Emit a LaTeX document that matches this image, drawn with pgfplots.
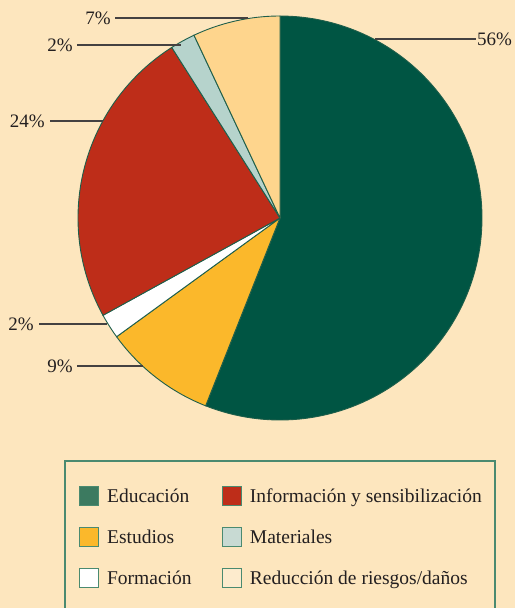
\documentclass[border=0pt]{standalone}
\usepackage{fontspec}
\setmainfont{Liberation Serif}
\usepackage{pgfplots}
\pgfplotsset{compat=1.18}

\definecolor{cBg}{HTML}{FDE6BE}
\definecolor{cEdge}{HTML}{1E5E4A}
\definecolor{cEdu}{HTML}{005543}
\definecolor{cEst}{HTML}{FBB82B}
\definecolor{cFor}{HTML}{FFFFFF}
\definecolor{cInf}{HTML}{BE2D19}
\definecolor{cMat}{HTML}{B6D3CC}
\definecolor{cRed}{HTML}{FED58D}
\definecolor{cLegEdu}{HTML}{3C7A60}
\definecolor{cLegMat}{HTML}{C8DAD3}
\definecolor{cLegRed}{HTML}{FDEBCD}
\definecolor{cLegEdge}{HTML}{4A8A70}
\definecolor{cText}{HTML}{231F20}

% one wedge: start (percent), value (percent), colour; clockwise from 12 o'clock
\newcommand{\pieslice}[3]{%
  \addplot[forget plot, fill=#3, draw=cEdge, line width=0.9bp,
    domain={90-3.6*(#1+#2)}:{90-3.6*(#1)}, samples=120, variable=\t]
    ({280+202*cos(\t)}, {218-202*sin(\t)}) -- (axis cs:280,218) -- cycle;}

\begin{document}
\begin{tikzpicture}
\begin{axis}[
  scale only axis, width=515bp, height=608bp,
  xmin=0, xmax=515, ymin=0, ymax=608, y dir=reverse,
  hide axis, axis background/.style={fill=cBg},
  legend columns=2,
  legend cell align=left,
  legend image code/.code={\draw[#1] (0bp,-9.5bp) rectangle (19bp,9.5bp);},
  legend style={at={(axis cs:76,484)}, anchor=north west, draw=none, fill=none,
    font=\fontsize{19.5bp}{20bp}\selectfont, text=cText,
    nodes={inner sep=0pt}, column sep=0pt, row sep=21bp},
]
% Educacion 56, Estudios 9, Formacion 2, Informacion 24, Materiales 2, Reduccion 7
\pieslice{0}{56}{cEdu}
\pieslice{56}{9}{cEst}
\pieslice{65}{2}{cFor}
\pieslice{67}{24}{cInf}
\pieslice{91}{2}{cMat}
\pieslice{93}{7}{cRed}

\addlegendimage{fill=cLegEdu, draw=cLegEdge, line width=0.9bp}
\addlegendentry{\makebox[123bp][l]{\strut\hspace{8bp}Educación}}
\addlegendimage{fill=cInf, draw=cLegEdge, line width=0.9bp}
\addlegendentry{\strut\hspace{8bp}Información y sensibilización}
\addlegendimage{fill=cEst, draw=cLegEdge, line width=0.9bp}
\addlegendentry{\makebox[123bp][l]{\strut\hspace{8bp}Estudios}}
\addlegendimage{fill=cLegMat, draw=cLegEdge, line width=0.9bp}
\addlegendentry{\strut\hspace{8bp}Materiales}
\addlegendimage{fill=white, draw=cLegEdge, line width=0.9bp}
\addlegendentry{\makebox[123bp][l]{\strut\hspace{8bp}Formación}}
\addlegendimage{fill=cLegRed, draw=cLegEdge, line width=0.9bp}
\addlegendentry{\strut\hspace{8bp}Reducción de riesgos/daños}

% leader lines and percentage labels
\begin{scope}[draw=cText!85, line width=1.1bp]
\draw (axis cs:375,39) -- (axis cs:476,39);
\draw (axis cs:115,18) -- (axis cs:248,18);
\draw (axis cs:77,45) -- (axis cs:181,45);
\draw (axis cs:50,121) -- (axis cs:103,121);
\draw (axis cs:39,324) -- (axis cs:107,324);
\draw (axis cs:77,366) -- (axis cs:143,366);
\end{scope}
\begin{scope}[every node/.style={font=\fontsize{19bp}{20bp}\selectfont, text=cText, inner sep=0pt}]
\node[anchor=west] at (axis cs:477,39) {56\%};
\node[anchor=east] at (axis cs:111,18) {7\%};
\node[anchor=east] at (axis cs:73,45) {2\%};
\node[anchor=east] at (axis cs:45,121) {24\%};
\node[anchor=east] at (axis cs:34,324) {2\%};
\node[anchor=east] at (axis cs:73,366) {9\%};
\end{scope}

% legend frame (runs off the bottom edge)
\draw[cLegEdge, line width=1.2bp] (axis cs:65,608) -- (axis cs:65,461) -- (axis cs:495,461) -- (axis cs:495,608);
\end{axis}
\end{tikzpicture}
\end{document}
